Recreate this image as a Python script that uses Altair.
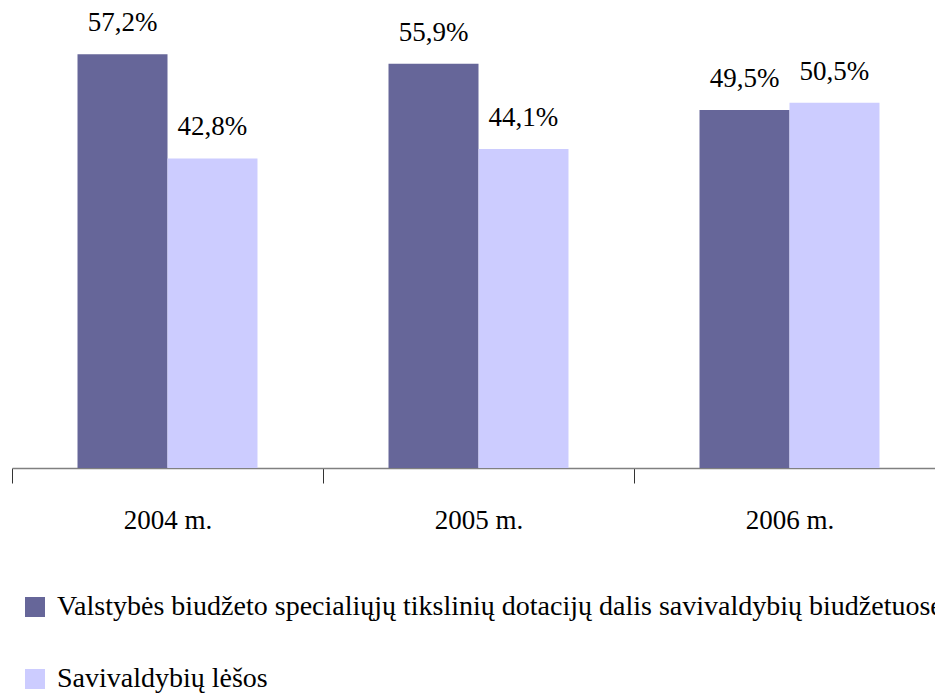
import altair as alt
import pandas as pd

years = ["2004 m.", "2005 m.", "2006 m."]
series = [
    "Valstybės biudžeto specialiųjų tikslinių dotacijų dalis savivaldybių biudžetuose",
    "Savivaldybių lėšos",
]
state_share = [57.2, 55.9, 49.5]
municipal_share = [42.8, 44.1, 50.5]
colors = ["#666699", "#CCCCFF"]

rows = []
for i, y in enumerate(years):
    rows.append({"year": y, "series": series[0], "order": 0, "value": state_share[i]})
    rows.append({"year": y, "series": series[1], "order": 1, "value": municipal_share[i]})
df = pd.DataFrame(rows)

FONT = "Liberation Serif"

base = alt.Chart(df).transform_calculate(
    label="replace(format(datum.value, '.1f'), '.', ',') + '%'"
)

x_enc = alt.X(
    "year:N",
    sort=years,
    scale=alt.Scale(paddingInner=0, paddingOuter=0, range=[0, 933]),
    axis=alt.Axis(
        title=None,
        labelAngle=0,
        labelFont=FONT,
        labelFontSize=27,
        labelColor="#000000",
        labelBaseline="alphabetic",
        labelPadding=45,
        tickBand="extent",
        tickSize=15,
        tickColor="#333333",
        domainColor="#808080",
        domainWidth=1.5,
    ),
)
xoff_enc = alt.XOffset(
    "series:N",
    sort=series,
    scale=alt.Scale(paddingInner=0, paddingOuter=0.728),
)
y_enc = alt.Y("value:Q", scale=alt.Scale(domain=[0, 60], nice=False), axis=None)

bars = base.mark_bar().encode(
    x=x_enc,
    xOffset=xoff_enc,
    y=y_enc,
    color=alt.Color(
        "series:N",
        sort=series,
        scale=alt.Scale(domain=series, range=colors),
        legend=alt.Legend(
            title=None,
            orient="none",
            legendX=9,
            legendY=559,
            direction="vertical",
            symbolType="square",
            symbolSize=400,
            symbolStrokeWidth=0,
            labelFont=FONT,
            labelFontSize=28,
            labelColor="#000000",
            labelLimit=2000,
            labelOffset=8,
            rowPadding=44,
            padding=0,
        ),
    ),
)

# value labels above each bar
labels = base.mark_text(
    font=FONT, fontSize=27, color="#000000", baseline="alphabetic", dy=-23
).encode(
    x=x_enc,
    xOffset=xoff_enc,
    y=y_enc,
    text="label:N",
)

chart = (
    alt.layer(bars, labels)
    .properties(
        width=923,
        height=434,
        autosize=alt.AutoSizeParams(type="none"),
        padding={"left": 12, "top": 34, "right": 0, "bottom": 227},
        background="#ffffff",
    )
    .configure_view(stroke=None)
    .configure_text(font=FONT, fontSize=27)
)

chart.save("out.html", embed_options={"renderer": "svg", "actions": False})
